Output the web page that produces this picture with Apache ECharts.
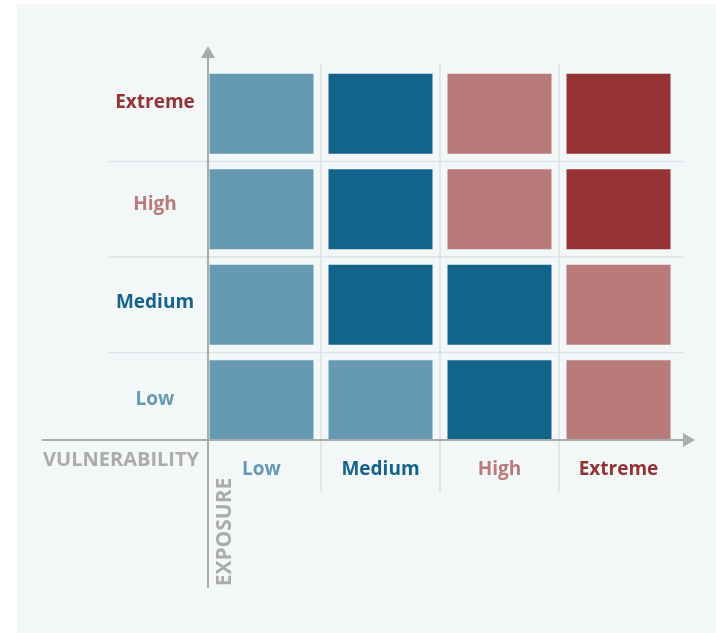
<!DOCTYPE html>
<html>
<head>
<meta charset="utf-8">
<title>Risk matrix</title>
<script src="https://cdn.jsdelivr.net/npm/echarts@6/dist/echarts.min.js"></script>
<style>
  html, body { margin: 0; padding: 0; background: #fff; }
  #panel { position: absolute; left: 17px; top: 4px; width: 699px; height: 629px; background: #f4f7f8; }
  #chart { position: absolute; left: 0; top: 0; width: 716px; height: 633px; }
</style>
</head>
<body>
<div id="panel"></div>
<div id="chart"></div>
<script>
  // vulnerability along x, exposure along y (bottom to top)
  const vulnerability = ['Low', 'Medium', 'High', 'Extreme']
  const exposure = ['Low', 'Medium', 'High', 'Extreme']
  // risk level per row of exposure, one entry per vulnerability column
  const riskLow = ['Low', 'Low', 'Medium', 'High']
  const riskMedium = ['Low', 'Medium', 'Medium', 'High']
  const riskHigh = ['Low', 'Medium', 'High', 'Extreme']
  const riskExtreme = ['Low', 'Medium', 'High', 'Extreme']

  const levelColor = {
    Low: '#659ab2',
    Medium: '#13648a',
    High: '#b97a7a',
    Extreme: '#943234'
  }

  const rows = [riskLow, riskMedium, riskHigh, riskExtreme]
  const cells = []
  rows.forEach((row, yi) => {
    row.forEach((level, xi) => {
      cells.push([xi, yi, level])
    })
  })

  const labelFont = '"Open Sans", sans-serif'
  const gray = '#ababab'
  const lineGray = '#d9e2e5'

  // y labels sit a little above their row centres in the original
  const yLift = { Low: 1, Medium: 2, High: 5, Extreme: 11 }
  const yRich = {}
  exposure.forEach((name) => {
    yRich[name] = {
      color: levelColor[name],
      fontFamily: labelFont,
      fontWeight: 'bold',
      fontSize: 19,
      padding: [0, 0, yLift[name] * 2, 0]
    }
  })

  let myChart = echarts.init(document.getElementById('chart'))
  myChart.setOption({
    backgroundColor: 'transparent',
    animation: false,
    grid: { left: 202, right: 38, top: 66, bottom: 185 },
    xAxis: {
      type: 'category',
      data: vulnerability,
      axisLine: { show: false },
      axisTick: { show: false },
      splitLine: { show: false },
      axisLabel: {
        margin: 12,
        fontFamily: labelFont,
        fontWeight: 'bold',
        fontSize: 19,
        color: (v) => levelColor[v]
      }
    },
    yAxis: {
      type: 'category',
      data: exposure,
      axisLine: { show: false },
      axisTick: { show: false },
      splitLine: { show: false },
      axisLabel: {
        margin: 47,
        align: 'center',
        formatter: (v) => `{${v}|${v}}`,
        rich: yRich
      }
    },
    series: [{
      type: 'custom',
      data: cells,
      renderItem(params, api) {
        const c = api.coord([api.value(0), api.value(1)])
        const s = api.size([1, 1])
        const w = s[0] * 0.874
        const h = s[1] * 0.838
        return {
          type: 'rect',
          shape: { x: c[0] - w / 2, y: c[1] - h / 2, width: w, height: h },
          style: { fill: levelColor[cells[params.dataIndex][2]] }
        }
      }
    }]
  })

  // guide lines and arrows, placed from the axes' own band positions
  const xc = vulnerability.map((v, i) => myChart.convertToPixel({ xAxisIndex: 0 }, i))
  const yc = exposure.map((v, i) => myChart.convertToPixel({ yAxisIndex: 0 }, i))
  const bandW = xc[1] - xc[0]
  const bandH = yc[0] - yc[1]
  const gLeft = xc[0] - bandW / 2
  const gRight = xc[3] + bandW / 2
  const gTop = yc[3] - bandH / 2
  const gBottom = yc[0] + bandH / 2
  const axisX = gLeft + 6
  const axisY = gBottom - 8

  const g = []
  for (let i = 0; i < 3; i++) {
    const x = (xc[i] + xc[i + 1]) / 2
    g.push({ type: 'line', shape: { x1: x, y1: gTop - 2, x2: x, y2: gBottom + 44 }, style: { stroke: lineGray, lineWidth: 1.5 }, z: 1 })
    const y = (yc[i] + yc[i + 1]) / 2
    g.push({ type: 'line', shape: { x1: 108, y1: y, x2: gRight + 6, y2: y }, style: { stroke: lineGray, lineWidth: 1.5 }, z: 1 })
  }
  g.push({ type: 'line', shape: { x1: axisX, y1: 56, x2: axisX, y2: 588 }, style: { stroke: gray, lineWidth: 2 }, z: 10 })
  g.push({ type: 'polygon', shape: { points: [[axisX, 46], [axisX - 7, 58], [axisX + 7, 58]] }, style: { fill: gray }, z: 10 })
  g.push({ type: 'line', shape: { x1: 42, y1: axisY, x2: 686, y2: axisY }, style: { stroke: gray, lineWidth: 2 }, z: 10 })
  g.push({ type: 'polygon', shape: { points: [[695, axisY], [683, axisY - 7], [683, axisY + 7]] }, style: { fill: gray }, z: 10 })
  g.push({
    type: 'text', x: 199, y: 460, z: 10,
    style: { text: 'VULNERABILITY', fill: gray, font: 'bold 20px "Open Sans", sans-serif', align: 'right', verticalAlign: 'middle' }
  })
  g.push({
    type: 'text', x: 225, y: 532, rotation: Math.PI / 2, z: 10,
    style: { text: 'EXPOSURE', fill: gray, font: 'bold 21px "Open Sans", sans-serif', align: 'center', verticalAlign: 'middle' }
  })
  myChart.setOption({ graphic: g })
</script>
</body>
</html>
